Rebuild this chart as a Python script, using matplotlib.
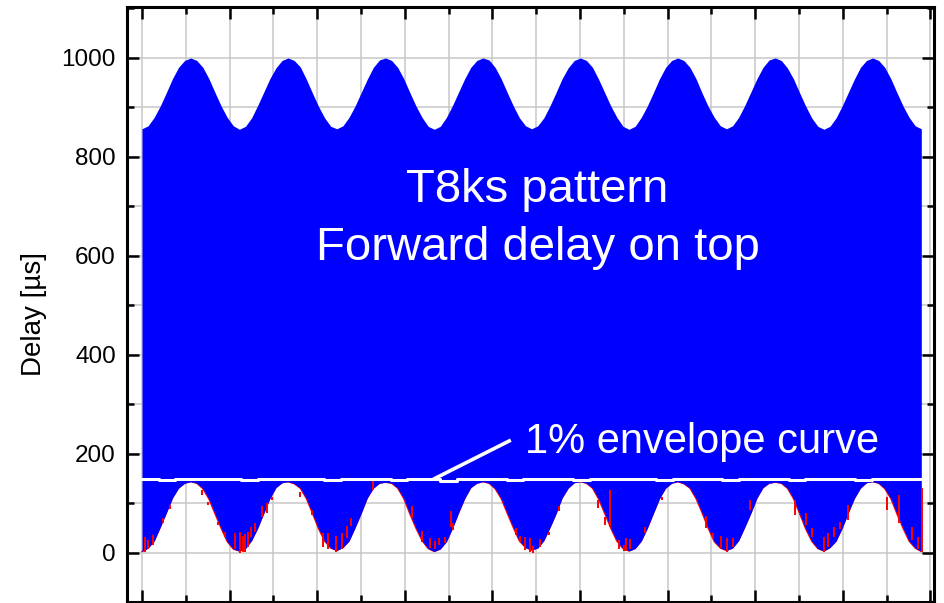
import matplotlib
matplotlib.use('Agg')
import matplotlib.pyplot as plt
from matplotlib.ticker import MultipleLocator
import numpy as np

plt.rcParams['font.family'] = ['Liberation Sans', 'DejaVu Sans']

# sample span on the (unlabelled) x axis
t_start, t_end = 0.0, 17.79

# forward delay (top edge of the blue band), 16 samples per cycle
upper_delay = [
    857, 863, 880, 903, 930, 958, 981, 995, 1000, 995, 981, 958, 930, 903, 880, 863,
    856, 862, 879, 904, 931, 958, 980, 995, 1000, 995, 982, 957, 929, 902, 879, 862,
    857, 863, 880, 903, 930, 957, 981, 996, 1000, 995, 981, 958, 930, 903, 880, 862,
    856, 862, 880, 904, 931, 958, 981, 995, 1000, 996, 981, 958, 930, 903, 879, 863,
    857, 863, 879, 903, 930, 958, 980, 995, 1000, 995, 981, 957, 930, 903, 880, 862,
    856, 862, 880, 903, 930, 958, 981, 995, 1000, 995, 981, 958, 929, 902, 880, 863,
    857, 863, 880, 904, 931, 958, 981, 996, 1000, 995, 980, 958, 930, 903, 879, 862,
    856, 862, 879, 903, 930, 957, 981, 995, 1000, 995, 981, 958, 930, 903, 880, 863,
    857,
]

# backward delay (bottom edge of the blue band)
lower_delay = [
    3, 10, 24, 52, 81, 111, 131, 141, 144, 141, 130, 109, 79, 50, 23, 8,
    4, 9, 25, 50, 80, 110, 132, 142, 144, 140, 131, 110, 80, 49, 24, 10,
    5, 11, 24, 51, 80, 111, 131, 141, 143, 141, 131, 110, 79, 50, 25, 9,
    3, 8, 23, 50, 81, 110, 132, 141, 144, 141, 130, 110, 80, 51, 24, 11,
    6, 10, 25, 51, 79, 111, 131, 142, 144, 141, 131, 109, 80, 50, 24, 9,
    4, 9, 24, 50, 80, 110, 131, 141, 144, 140, 131, 110, 81, 50, 23, 10,
    5, 10, 25, 52, 80, 111, 132, 141, 143, 141, 131, 110, 80, 49, 24, 9,
    4, 11, 24, 50, 81, 110, 131, 142, 144, 141, 130, 110, 79, 50, 24, 10,
    3,
]

# 1% envelope curve (white steps)
envelope_1pct = [149, 147, 149, 149, 150, 149, 148, 149, 150, 150, 149, 147,
                 149, 150, 149, 148, 150, 149, 146, 149, 150, 149, 148, 149,
                 150, 149, 147, 149, 150, 150, 149, 148, 149, 150, 149, 147,
                 149, 150, 150, 148, 149, 150, 149, 147, 149, 150, 149, 149]

# red outliers below the blue band: position, bottom, top
spike_x = [0.07, 0.14, 0.26, 0.49, 0.64, 1.36, 1.51, 1.74, 1.89,
           2.13, 2.24, 2.30, 2.35, 2.43, 2.50, 2.58, 2.73, 2.85, 2.96,
           3.61, 3.88, 4.14, 4.25, 4.44, 4.56, 4.67, 4.78, 5.28, 6.16,
           6.39, 6.58, 6.70, 6.77, 6.92, 7.05, 7.11, 8.54, 8.63, 8.74,
           8.86, 8.93, 9.08, 9.28, 9.51, 10.42, 10.57, 10.68, 10.90, 11.00,
           11.05, 11.15, 11.48, 11.86, 12.88, 13.04, 13.22, 13.35, 13.50, 13.88,
           14.91, 15.16, 15.29, 15.56, 15.67, 15.79, 15.94, 16.12, 17.00, 17.27,
           17.57, 17.72, 17.81]
spike_lo = [3, 9, 16, 60, 88, 117, 97, 57, 33,
            9, 0, 3, 3, 12, 33, 43, 73, 80, 107,
            114, 77, 13, 9, 3, 8, 30, 55, 128, 70,
            23, 10, 8, 16, 20, 53, 47, 36, 23, 6,
            3, 0, 13, 36, 84, 90, 57, 53, 8, 4,
            5, 8, 40, 107, 50, 30, 10, 3, 12, 87,
            77, 57, 33, 3, 13, 33, 49, 67, 87, 61,
            27, 9, 1]
spike_hi = [33, 26, 36, 70, 97, 127, 104, 63, 43,
            40, 43, 35, 38, 42, 53, 60, 94, 100, 114,
            124, 87, 40, 40, 35, 40, 55, 70, 147, 95,
            45, 30, 25, 30, 33, 84, 60, 50, 35, 32,
            30, 15, 28, 43, 94, 107, 72, 127, 26, 16,
            30, 28, 53, 114, 75, 40, 35, 30, 30, 107,
            107, 80, 50, 33, 40, 53, 63, 97, 113, 117,
            53, 33, 132]

t_band = np.linspace(t_start, t_end, len(upper_delay))
t_env = np.linspace(t_start, t_end, len(envelope_1pct))

fig = plt.figure(figsize=(9.45, 6.03), dpi=100)
ax = fig.add_axes([127 / 945, 1 / 603, 807 / 945, 595 / 603])

# red series sits just under the blue band, outliers drawn on top
ax.plot(t_band, lower_delay, color='#ff0000', lw=1.0, zorder=1.5)
ax.fill_between(t_band, lower_delay, upper_delay, color='#0000ff', lw=0, zorder=2)
ax.vlines(spike_x, spike_lo, spike_hi, color='#ff0000', lw=1.4, zorder=3)
ax.step(t_env, envelope_1pct, where='post', color='white', lw=2.2, zorder=4)

# annotations
ax.plot([6.65, 8.42], [149, 228], color='white', lw=2.6, solid_capstyle='butt', zorder=5)
ax.text(8.74, 202.6, '1% envelope curve', color='white', fontsize=30, va='baseline', zorder=6)
ax.text(9.03, 709.7, 'T8ks pattern', color='white', fontsize=34, ha='center', va='baseline', zorder=6)
ax.text(9.03, 592, 'Forward delay on top', color='white', fontsize=34, ha='center', va='baseline', zorder=6)

# axes look (Origin style)
ax.set_xlim(-0.342, 18.08)
ax.set_ylim(-99, 1103)
ax.xaxis.set_major_locator(MultipleLocator(2))
ax.xaxis.set_minor_locator(MultipleLocator(1))
ax.yaxis.set_major_locator(MultipleLocator(200))
ax.yaxis.set_minor_locator(MultipleLocator(100))
ax.grid(which='both', color='#c8c8c8', lw=1.1, zorder=0)
ax.set_axisbelow(True)
ax.tick_params(which='both', direction='in', top=True, right=True, width=1.8,
               labelbottom=False, labelsize=17.5, pad=8)
ax.tick_params(which='major', length=8.5)
ax.tick_params(which='minor', length=5)
for s in ax.spines.values():
    s.set_linewidth(2.2)

fig.text(34 / 945, 1 - 314 / 603, 'Delay [µs]', rotation=90, ha='center', va='center', fontsize=20)

fig.savefig('out.png', dpi=100)
